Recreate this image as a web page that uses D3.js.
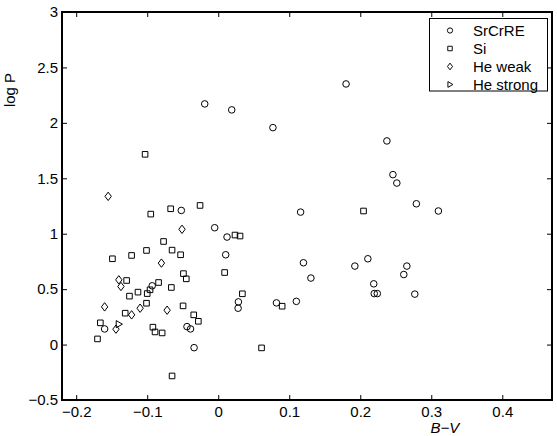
<!DOCTYPE html>
<html>
<head>
<meta charset="utf-8">
<script src="https://cdn.jsdelivr.net/npm/d3@7"></script>
<style>
body { margin: 0; background: #fff; }
text { font-family: "Liberation Sans", Arial, Helvetica, sans-serif; }
</style>
</head>
<body>
<div id="chart"></div>
<script>
// values: [B-V, log P]
var xTicks = [-0.2, -0.1, 0, 0.1, 0.2, 0.3, 0.4];
var yTicks = [-0.5, 0, 0.5, 1, 1.5, 2, 2.5, 3];
var seriesNames = ["SrCrRE", "Si", "He weak", "He strong"];

var srcrre = [
  [-0.019, 2.171], [0.019, 2.117], [0.077, 1.957], [0.180, 2.351], [0.2375, 1.837],
  [0.246, 1.533], [0.2515, 1.457], [0.279, 1.270], [0.310, 1.205], [0.116, 1.195],
  [-0.052, 1.210], [-0.005, 1.054], [0.0124, 0.970], [0.0105, 0.810], [0.120, 0.738],
  [0.2107, 0.774], [0.1924, 0.708], [0.2656, 0.708], [0.2613, 0.632], [0.1305, 0.600],
  [0.219, 0.548], [0.2197, 0.460], [0.224, 0.460], [0.2768, 0.455], [0.110, 0.390],
  [0.082, 0.376], [0.0284, 0.385], [0.028, 0.328], [-0.093, 0.530], [-0.160, 0.141],
  [-0.044, 0.162], [-0.039, 0.141], [-0.034, -0.028]
];
var si = [
  [-0.103, 1.716], [-0.095, 1.177], [-0.067, 1.225], [-0.0256, 1.255], [0.2046, 1.205],
  [0.0236, 0.988], [0.0307, 0.979], [-0.077, 0.930], [-0.101, 0.849], [-0.065, 0.852],
  [-0.149, 0.774], [-0.122, 0.804], [-0.053, 0.810], [0.009, 0.650], [-0.049, 0.640],
  [-0.045, 0.593], [-0.129, 0.578], [-0.084, 0.560], [-0.096, 0.494], [-0.100, 0.460],
  [-0.066, 0.515], [-0.113, 0.473], [-0.125, 0.437], [0.034, 0.458], [0.090, 0.346],
  [-0.101, 0.373], [-0.131, 0.283], [-0.0495, 0.349], [-0.166, 0.196], [-0.0345, 0.268],
  [-0.028, 0.210], [-0.092, 0.157], [-0.089, 0.114], [-0.079, 0.105], [-0.170, 0.051],
  [0.061, -0.030], [-0.065, -0.283]
];
var heWeak = [
  [-0.155, 1.337], [-0.051, 1.040], [-0.080, 0.735], [-0.140, 0.584], [-0.137, 0.524],
  [-0.160, 0.340], [-0.110, 0.328], [-0.122, 0.268], [-0.072, 0.310], [-0.144, 0.139]
];
var heStrong = [
  [-0.140, 0.184]
];

var width = 557, height = 436;
var margin = {top: 12, right: 5, bottom: 36, left: 62};
var plotW = width - margin.left - margin.right,
    plotH = height - margin.top - margin.bottom;

var svg = d3.select("#chart")
  .append("svg")
    .attr("width", width)
    .attr("height", height);

var x = d3.scaleLinear().domain([-0.22, 0.47]).range([margin.left, margin.left + plotW]);
var y = d3.scaleLinear().domain([-0.5, 3]).range([margin.top + plotH, margin.top]);

var fmt = d3.format("~g");

// inward ticks on all four sides
svg.append("g")
  .attr("transform", "translate(0," + y(-0.5) + ")")
  .call(d3.axisBottom(x).tickValues(xTicks).tickFormat(fmt).tickSize(-5).tickPadding(6))
  .call(function(g) { g.select(".domain").remove(); });
svg.append("g")
  .attr("transform", "translate(" + x(-0.22) + ",0)")
  .call(d3.axisLeft(y).tickValues(yTicks).tickFormat(fmt).tickSize(-5).tickPadding(4))
  .call(function(g) { g.select(".domain").remove(); });
svg.append("g")
  .attr("transform", "translate(0," + y(3) + ")")
  .call(d3.axisTop(x).tickValues(xTicks).tickFormat("").tickSize(-5))
  .call(function(g) { g.select(".domain").remove(); });
svg.append("g")
  .attr("transform", "translate(" + x(0.47) + ",0)")
  .call(d3.axisRight(y).tickValues(yTicks).tickFormat("").tickSize(-5))
  .call(function(g) { g.select(".domain").remove(); });

svg.selectAll(".tick line").attr("stroke", "#000").attr("stroke-width", 1);
svg.selectAll(".tick text").attr("fill", "#000").style("font-size", "15px");

svg.append("rect")
    .attr("x", x(-0.22))
    .attr("y", y(3))
    .attr("width", x(0.47) - x(-0.22))
    .attr("height", y(-0.5) - y(3))
    .attr("fill", "none")
    .attr("stroke", "#000")
    .attr("stroke-width", 2);

var markers = [
  d3.symbol(d3.symbolCircle, 34)(),
  "M-2.8,-2.8h5.6v5.6h-5.6Z",
  "M0,-4.2L3.2,0L0,4.2L-3.2,0Z",
  "M-2.6,-3.6L3.6,0L-2.6,3.6Z"
];
var allSeries = [srcrre, si, heWeak, heStrong];

allSeries.forEach(function(pts, i) {
  svg.append("g").selectAll("path")
    .data(pts)
    .enter()
    .append("path")
      .attr("transform", function(d) { return "translate(" + x(d[0]) + "," + y(d[1]) + ")"; })
      .attr("d", markers[i])
      .attr("fill", "none")
      .attr("stroke", "#000")
      .attr("stroke-width", 1);
});

// axis titles
svg.append("text")
    .attr("transform", "translate(15,90)rotate(-90)")
    .style("text-anchor", "middle")
    .style("font-size", "15px")
    .text("log P");

svg.append("text")
    .attr("x", 445)
    .attr("y", 433)
    .style("text-anchor", "middle")
    .style("font-size", "15px")
    .style("font-style", "italic")
    .text("B\u2212V");

// legend
var legend = svg.append("g");
legend.append("rect")
    .attr("x", 429.5)
    .attr("y", 18.5)
    .attr("width", 118)
    .attr("height", 72.5)
    .attr("fill", "#fff")
    .attr("stroke", "#000")
    .attr("stroke-width", 1);

var rows = legend.selectAll("g.row")
  .data(seriesNames)
  .enter()
  .append("g")
    .attr("class", "row")
    .attr("transform", function(d, i) { return "translate(450," + (30.5 + i * 18) + ")"; });

rows.append("path")
    .attr("d", function(d, i) { return markers[i]; })
    .attr("transform", "scale(0.8)")
    .attr("fill", "none")
    .attr("stroke", "#000")
    .attr("stroke-width", 1.2);

rows.append("text")
    .attr("x", 23)
    .attr("dy", "0.36em")
    .style("font-size", "15px")
    .text(function(d) { return d; });
</script>
</body>
</html>
